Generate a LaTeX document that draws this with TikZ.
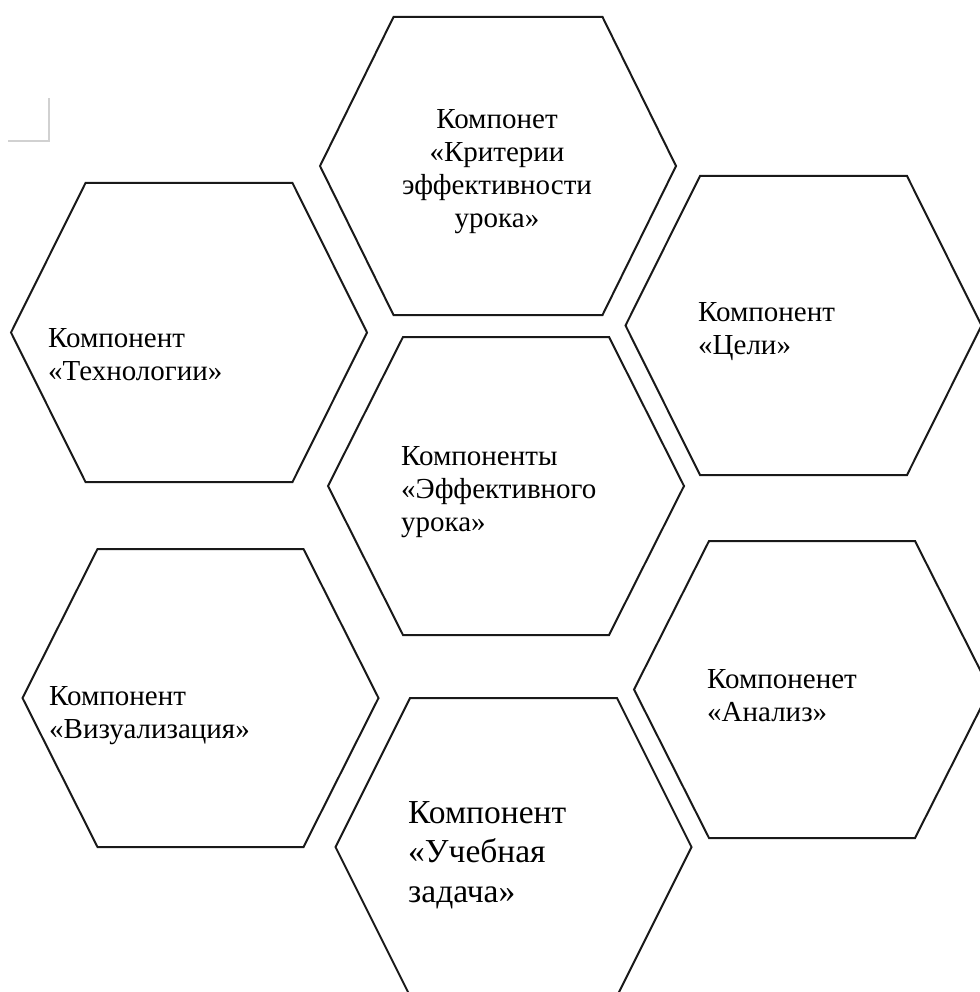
\documentclass[tikz,border=0pt]{standalone}
\usepackage{fontspec}
\setmainfont{Liberation Serif}
\tikzset{
  hexline/.style={draw=black!90, line width=2pt, line join=miter},
  hextext/.style={inner sep=0pt, font=\fontsize{29}{33}\selectfont, align=left, anchor=west},
  bigtext/.style={inner sep=0pt, font=\fontsize{33.5}{39.5}\selectfont, align=left, anchor=west},
  cornermark/.style={draw=black!18, line width=1.5pt}
}
% hexagon: center (#1,#2), half width #3, half top edge #4, half height #5
\newcommand{\hexat}[5]{%
  \draw[hexline] (#1-#3,#2) -- (#1-#4,#2-#5) -- (#1+#4,#2-#5) -- (#1+#3,#2)
    -- (#1+#4,#2+#5) -- (#1-#4,#2+#5) -- cycle;}
\begin{document}
\begin{tikzpicture}[x=1pt,y=-1pt]
\useasboundingbox (0,0) rectangle (979,992);
% corner mark
\draw[cornermark] (8,141) -- (49,141) -- (49,98);
% hexagons
\hexat{498}{166}{178}{104.5}{149}
\hexat{189}{332.5}{178}{103.5}{149.5}
\hexat{803.5}{325.5}{178}{103.5}{149.5}
\hexat{506}{486}{178}{103}{149}
\hexat{200.5}{698}{178}{103}{149}
\hexat{812}{689.5}{178}{103}{148.5}
\hexat{513.5}{847}{178}{103.5}{149}
% texts
\node[hextext, align=center, anchor=center] (crit) at (497,172) {Компонет\\«Критерии\\эффективности\\урока»};
\node[hextext] (tech) at (48,355) {Компонент\\«Технологии»};
\node[hextext] (goal) at (698,332) {Компонент\\«Цели»};
\node[hextext] (main) at (401,492) {Компоненты\\«Эффективного\\урока»};
\node[hextext] (vis) at (49,716) {Компонент\\«Визуализация»};
\node[hextext] (anal) at (707,696) {Компоненет\\«Анализ»};
\node[bigtext] (task) at (408,855) {Компонент\\«Учебная\\задача»};
\end{tikzpicture}
\end{document}
